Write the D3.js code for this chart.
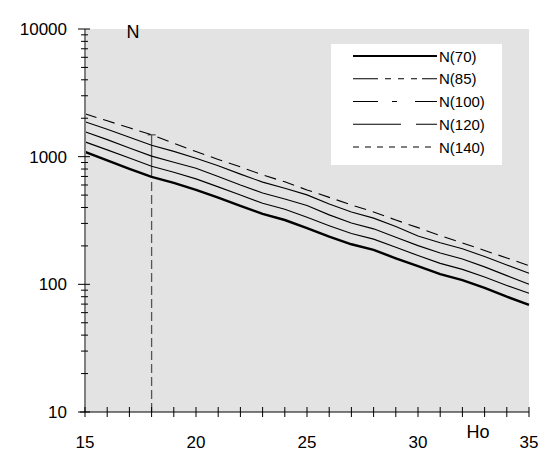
<!DOCTYPE html>
<html>
<head>
<meta charset="utf-8">
<script src="https://cdn.jsdelivr.net/npm/d3@7"></script>
<style>
  body { margin: 0; background: #fff; }
  text { font-family: "Liberation Sans", Arial, sans-serif; fill: #000; }
</style>
</head>
<body>
<div class="graphics"></div>
<script>
// Ho values (x) and N series
var ho = [15, 16, 17, 18, 19, 20, 21, 22, 23, 24, 25, 26, 27, 28, 29, 30, 31, 32, 33, 34, 35];
var n70  = [1090, 935, 802, 694, 623, 549, 478, 411, 356, 319, 275, 236, 206, 186, 160, 139, 120, 108, 94, 80, 69];
var n85  = [1306, 1130, 975, 840, 755, 670, 580, 500, 432, 388, 335, 288, 250, 226, 195, 168, 146, 131, 114, 98, 85];
var n100 = [1566, 1360, 1170, 1010, 905, 812, 700, 600, 520, 466, 414, 350, 302, 272, 234, 201, 176, 158, 137, 117, 100];
var n120 = [1875, 1640, 1420, 1230, 1100, 973, 850, 730, 632, 566, 502, 425, 368, 330, 284, 239, 212, 190, 165, 142, 122];
var n140 = [2166, 1909, 1682, 1483, 1272, 1096, 952, 832, 720, 635, 549, 480, 419, 369, 319, 278, 241, 211, 184, 161, 140];
var seriesNames = ["N(70)", "N(85)", "N(100)", "N(120)", "N(140)"];
var xTickLabels = [15, 20, 25, 30, 35];
var yTickLabels = [10, 100, 1000, 10000];
var markerHo = 18;

var series = [
  {name: seriesNames[0], values: n70,  width: 2.4, dash: null,  legendDash: null},
  {name: seriesNames[1], values: n85,  width: 1.1, dash: null,  legendDash: "25,7,6,7,6,7,6,5,15"},
  {name: seriesNames[2], values: n100, width: 1.1, dash: null,  legendDash: "25,14,5,18,22"},
  {name: seriesNames[3], values: n120, width: 1.1, dash: null,  legendDash: "48,15,21"},
  {name: seriesNames[4], values: n140, width: 1.1, dash: "12,7", legendDash: "6,6"}
];

var W = 542, H = 451;
var svg = d3.select(".graphics").append("svg")
    .attr("width", W).attr("height", H);

var x = d3.scaleLinear().domain([15, 35]).range([85, 529]);
var y = d3.scaleLog().domain([10, 10000]).range([412, 29]);

// plot area
svg.append("rect")
    .attr("x", x(15)).attr("y", y(10000))
    .attr("width", x(35) - x(15)).attr("height", y(10) - y(10000))
    .attr("fill", "#e3e3e3");

// marker at Ho = 18
var mi = ho.indexOf(markerHo);
svg.append("line")
    .attr("x1", x(markerHo)).attr("x2", x(markerHo))
    .attr("y1", y(10)).attr("y2", y(n70[mi]))
    .attr("stroke", "#555").attr("stroke-width", 1.3)
    .attr("stroke-dasharray", "9,4");
svg.append("line")
    .attr("x1", x(markerHo)).attr("x2", x(markerHo))
    .attr("y1", y(n70[mi])).attr("y2", y(n140[mi]))
    .attr("stroke", "#555").attr("stroke-width", 1.3);
svg.append("line")
    .attr("x1", x(markerHo) - 4).attr("x2", x(markerHo) + 4)
    .attr("y1", y(n140[mi])).attr("y2", y(n140[mi]))
    .attr("stroke", "#555").attr("stroke-width", 1.3);

// lines
var line = d3.line()
    .x(function(d, i) { return x(ho[i]); })
    .y(function(d) { return y(d); });

series.forEach(function(s) {
  svg.append("path")
      .attr("d", line(s.values))
      .attr("fill", "none")
      .attr("stroke", "#000")
      .attr("stroke-width", s.width)
      .attr("stroke-dasharray", s.dash);
});

// Y axis
var yAxis = svg.append("g").attr("transform", "translate(" + x(15) + ",0)");
yAxis.append("line")
    .attr("x1", 0).attr("x2", 0).attr("y1", y(10000)).attr("y2", y(10))
    .attr("stroke", "#808080").attr("stroke-width", 2);
var yMinor = [];
[10, 100, 1000].forEach(function(b) {
  for (var k = 2; k <= 9; k++) yMinor.push(b * k);
});
yAxis.selectAll(".ymin").data(yMinor).enter().append("line")
    .attr("x1", -4).attr("x2", 3)
    .attr("y1", function(d) { return y(d); }).attr("y2", function(d) { return y(d); })
    .attr("stroke", "#000");
yAxis.selectAll(".ymaj").data(yTickLabels).enter().append("line")
    .attr("x1", -7).attr("x2", 5)
    .attr("y1", function(d) { return y(d); }).attr("y2", function(d) { return y(d); })
    .attr("stroke", "#000");
yAxis.selectAll(".ylab").data(yTickLabels).enter().append("text")
    .attr("x", -18).attr("y", function(d) { return y(d) + 6; })
    .attr("text-anchor", "end")
    .style("font-size", "17px")
    .text(function(d) { return d; });

// X axis
var xAxis = svg.append("g").attr("transform", "translate(0," + y(10) + ")");
xAxis.append("line")
    .attr("x1", x(15) - 5).attr("x2", x(35)).attr("y1", 0).attr("y2", 0)
    .attr("stroke", "#000");
xAxis.selectAll(".xt").data(d3.range(15, 36)).enter().append("line")
    .attr("x1", function(d) { return x(d); }).attr("x2", function(d) { return x(d); })
    .attr("y1", -5).attr("y2", 5)
    .attr("stroke", "#000");
xAxis.selectAll(".xlab").data(xTickLabels).enter().append("text")
    .attr("x", function(d) { return x(d); }).attr("y", 36)
    .attr("text-anchor", "middle")
    .style("font-size", "17px")
    .text(function(d) { return d; });

// axis titles
svg.append("text").attr("x", 133).attr("y", 38)
    .attr("text-anchor", "middle").style("font-size", "18px").text("N");
svg.append("text").attr("x", 478).attr("y", 438)
    .attr("text-anchor", "middle").style("font-size", "18px").text("Ho");

// legend
var lg = svg.append("g");
lg.append("rect")
    .attr("x", 331).attr("y", 44).attr("width", 171).attr("height", 121)
    .attr("fill", "#fff");
var legendY = d3.scalePoint().domain(seriesNames).range([56, 147]);
series.forEach(function(s) {
  var yy = legendY(s.name);
  lg.append("line")
      .attr("x1", 353).attr("x2", 437).attr("y1", yy).attr("y2", yy)
      .attr("stroke", "#000")
      .attr("stroke-width", s.width === 2.4 ? 2.2 : 1.1)
      .attr("stroke-dasharray", s.legendDash);
  lg.append("text")
      .attr("x", 439).attr("y", yy + 5.5)
      .style("font-size", "15px")
      .text(s.name);
});
</script>
</body>
</html>
